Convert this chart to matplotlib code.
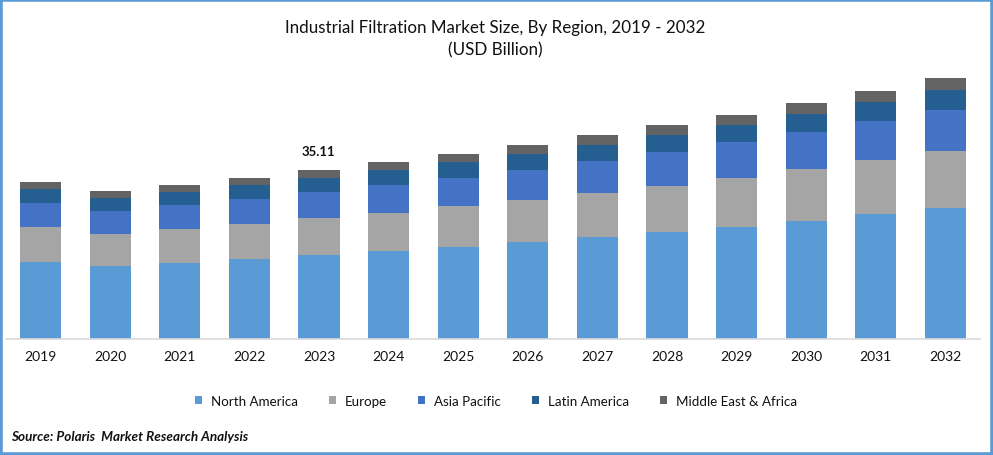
import matplotlib
matplotlib.use("Agg")
import matplotlib.pyplot as plt
import numpy as np
from matplotlib.patches import Rectangle

plt.rcParams["font.family"] = ["Lato", "DejaVu Sans"]

years = ["2019", "2020", "2021", "2022", "2023", "2024", "2025",
         "2026", "2027", "2028", "2029", "2030", "2031", "2032"]

# values in USD billion (2023 total = 35.11)
north_america = [16.0, 15.17, 15.79, 16.62, 17.46, 18.29, 19.12, 20.16, 21.2, 22.24, 23.27, 24.52, 25.98, 27.22]
europe = [7.27, 6.65, 7.07, 7.27, 7.69, 7.9, 8.52, 8.73, 9.14, 9.56, 10.18, 10.81, 11.22, 11.84]
asia_pacific = [4.99, 4.78, 4.99, 5.2, 5.4, 5.82, 5.82, 6.23, 6.65, 7.07, 7.48, 7.69, 8.1, 8.52]
latin_america = [2.91, 2.7, 2.7, 2.91, 2.91, 3.12, 3.32, 3.32, 3.32, 3.53, 3.53, 3.74, 3.95, 4.16]
mea = [1.45, 1.45, 1.45, 1.45, 1.66, 1.66, 1.66, 1.87, 2.08, 2.08, 2.08, 2.29, 2.29, 2.49]

series = [north_america, europe, asia_pacific, latin_america, mea]
names = ["North America", "Europe", "Asia Pacific", "Latin America", "Middle East & Africa"]
colors = ["#5B9BD5", "#A5A5A5", "#4472C4", "#255E91", "#636363"]

W, H = 993, 456
fig = plt.figure(figsize=(W / 100, H / 100), dpi=100, facecolor="white")
ax = fig.add_axes([5.7 / W, (H - 340) / H, (980.3 - 5.7) / W, 279 / H])

ind = np.arange(len(years))
bottom = np.zeros(len(years))
handles = []
for vals, name, col in zip(series, names, colors):
    rects = ax.bar(ind, vals, 0.59, bottom=bottom, color=col, label=name, linewidth=0)
    handles.append(rects)
    bottom += np.array(vals)

ax.set_xlim(-0.5, 13.5)
ax.set_ylim(0, 57.97)
ax.set_yticks([])
ax.set_xticks(ind)
ax.set_xticklabels(years, fontsize=10, color="#111111")
ax.tick_params(axis="x", length=0, pad=8)
for s in ["top", "left", "right"]:
    ax.spines[s].set_visible(False)
ax.spines["bottom"].set_color("#D9D9D9")
ax.spines["bottom"].set_linewidth(1.2)

# label only on the base year
ax.annotate("35.11", (4, bottom[4]), xytext=(-0.5, 9), textcoords="offset points",
            ha="center", va="bottom", fontsize=9.5, fontweight="bold", color="#111111")

fig.text(495.5 / W, 1 - 27.5 / H, "Industrial Filtration Market Size, By Region, 2019 - 2032",
         ha="center", va="center", fontsize=12.25, color="#111111")
fig.text(495 / W, 1 - 50.5 / H, "(USD Billion)", ha="center", va="center", fontsize=12.25, color="#111111")

fig.legend(handles=handles, loc="center", bbox_to_anchor=(496 / W, 1 - 402 / H), ncol=5,
           frameon=False, fontsize=9.6, handlelength=0.55, handleheight=0.55,
           handletextpad=0.65, columnspacing=2.33, labelcolor="#111111")

fig.text(11 / W, 1 - 437 / H, "Source: Polaris  Market Research Analysis", ha="left", va="center",
         fontsize=9.75, fontweight="bold", fontstyle="italic", color="#111111")

# blue frame around the picture
fig.add_artist(Rectangle((0, 0), 1, 1, transform=fig.transFigure, fill=False,
                         edgecolor="#5B9BD5", linewidth=4))

fig.savefig("out.png", dpi=100)
